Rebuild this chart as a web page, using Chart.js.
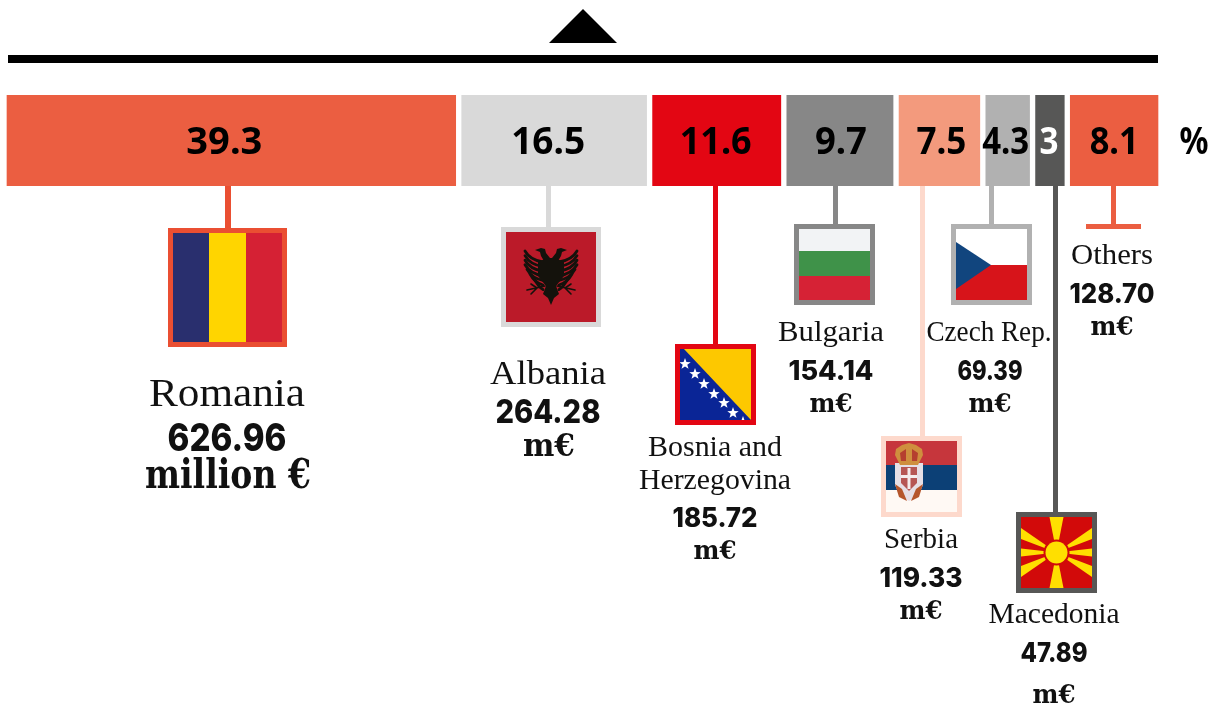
<!DOCTYPE html>
<html>
<head>
<meta charset="utf-8">
<title>Shares by country</title>
<script src="https://cdn.jsdelivr.net/npm/chart.js@4"></script>
<style>
  html, body { margin: 0; padding: 0; background: #fff; }
  canvas { display: block; }
</style>
</head>
<body>
<canvas id="chart" width="1219" height="707"></canvas>
<script>
const countries = ['Romania', 'Albania', 'Bosnia and Herzegovina', 'Bulgaria', 'Serbia', 'Czech Rep.', 'Macedonia', 'Others'];
const shares = [39.3, 16.5, 11.6, 9.7, 7.5, 4.3, 3, 8.1];
const amounts = [626.96, 264.28, 185.72, 154.14, 119.33, 69.39, 47.89, 128.70];
const unitLabels = ['million €', 'm€', 'm€', 'm€', 'm€', 'm€', 'm€', 'm€'];
const barColors = ['#eb5e41', '#d9d9d9', '#e30613', '#878787', '#f39a7d', '#b1b1b1', '#575756', '#eb5e41'];
const frameColors = ['#ea4f32', '#d9d9d9', '#e30613', '#878787', '#fdd9cc', '#b1b1b1', '#575756', '#eb5e41'];
const shareColors = ['#000', '#000', '#000', '#000', '#000', '#000', '#fff', '#000'];
// the printed numbers do not sit quite in the middle of their segments
const shareNudge = [-7, -6, -1, 1, 2, -2, -1, 0];
const shareWidth = [76, 74, 72, 52, 50, 47, 19, 49];

const NAME = '39px "Liberation Serif"';
const SMALL_NAME = '30px "Liberation Serif"';
const MID_NAME = '34px "Liberation Serif"';
const NUM_L = '800 38px Inter';
const NUM_M = '800 33px Inter';
const NUM_S = '800 27px Inter';
const UNIT_L = 'bold 41px "DejaVu Serif"';
const UNIT_M = 'bold 32px "DejaVu Serif"';
const UNIT_S = 'bold 26px "DejaVu Serif"';

// flag = outer frame box, label lines = [text, centre, baseline, font, width]
const callouts = [
  { stem: [225, 6, 228], frame: [168, 228, 119, 119], border: 5, draw: romania, lines: [
    [countries[0], 227, 406, NAME, 156],
    [amounts[0].toFixed(2), 227, 451, NUM_L, 119],
    [unitLabels[0], 228, 488, UNIT_L, 166] ] },
  { stem: [546, 5, 227], frame: [501, 227, 100, 100], border: 5, draw: albania, lines: [
    [countries[1], 548, 384, MID_NAME, 116],
    [amounts[1].toFixed(2), 548, 423, NUM_M, 105],
    [unitLabels[1], 549, 456, UNIT_M, 52] ] },
  { stem: [713, 5, 344], frame: [675, 344, 81, 81], border: 5, draw: bosnia, lines: [
    ['Bosnia and', 715, 456, SMALL_NAME, 134],
    ['Herzegovina', 715, 489, SMALL_NAME, 152],
    [amounts[2].toFixed(2), 715, 527, NUM_S, 85],
    [unitLabels[2], 715, 559, UNIT_S, 43] ] },
  { stem: [833, 5, 224], frame: [794, 224, 81, 81], border: 5, draw: bulgaria, lines: [
    [countries[3], 831, 341, SMALL_NAME, 106],
    [amounts[3].toFixed(2), 831, 380, NUM_S, 85],
    [unitLabels[3], 831, 412, UNIT_S, 43] ] },
  { stem: [920, 5, 436], frame: [881, 436, 81, 81], border: 5, draw: serbia, lines: [
    [countries[4], 921, 548, SMALL_NAME, 74],
    [amounts[4].toFixed(2), 921, 587, NUM_S, 83],
    [unitLabels[4], 921, 619, UNIT_S, 43] ] },
  { stem: [989, 5, 224], frame: [951, 224, 81, 81], border: 5, draw: czech, lines: [
    [countries[5], 989, 341, SMALL_NAME, 125],
    [amounts[5].toFixed(2), 990, 380, NUM_S, 65],
    [unitLabels[5], 990, 412, UNIT_S, 43] ] },
  { stem: [1053, 5, 512], frame: [1016, 512, 81, 81], border: 5, draw: macedonia, lines: [
    [countries[6], 1054, 623, SMALL_NAME, 131],
    [amounts[6].toFixed(2), 1054, 662, NUM_S, 67],
    [unitLabels[6], 1054, 703, UNIT_S, 43] ] },
  { stem: [1111, 5, 224], lines: [
    [countries[7], 1112, 264, SMALL_NAME, 82],
    [amounts[7].toFixed(2), 1112, 303, NUM_S, 85],
    [unitLabels[7], 1112, 335, UNIT_S, 43] ] }
];

function fitText(ctx, text, cx, y, font, width, color) {
  ctx.save();
  ctx.font = font;
  ctx.fillStyle = color || '#111';
  ctx.textAlign = 'center';
  ctx.textBaseline = 'alphabetic';
  const natural = ctx.measureText(text).width;
  ctx.translate(cx, y);
  ctx.scale(width / natural, 1);
  ctx.fillText(text, 0, 0);
  ctx.restore();
}

function poly(ctx, pts, color) {
  ctx.fillStyle = color;
  ctx.beginPath();
  pts.forEach((p, i) => i ? ctx.lineTo(p[0], p[1]) : ctx.moveTo(p[0], p[1]));
  ctx.closePath();
  ctx.fill();
}

// flags, each one painted inside its inner box x,y,w,h
function romania(ctx, x, y, w, h) {
  ctx.fillStyle = '#292f6e'; ctx.fillRect(x, y, 36, h);
  ctx.fillStyle = '#ffd500'; ctx.fillRect(x + 36, y, 37, h);
  ctx.fillStyle = '#d52134'; ctx.fillRect(x + 73, y, w - 73, h);
}

function albania(ctx, x, y, w, h) {
  ctx.fillStyle = '#bb1a29'; ctx.fillRect(x, y, w, h);
  const cx = x + 45, ink = '#14120c';
  const tips = [26, 26, 26, 26, 24, 21, 17];
  ctx.strokeStyle = ink;
  ctx.lineCap = 'round';
  for (const side of [-1, 1]) {
    // feathers lift towards their tips
    tips.forEach((tip, k) => {
      const fy = y + 25 + k * 4.6;
      ctx.lineWidth = 2.8;
      ctx.beginPath();
      ctx.moveTo(cx + side * 8, fy + 5);
      ctx.quadraticCurveTo(cx + side * (tip - 5), fy + 3, cx + side * tip, fy - 6);
      ctx.stroke();
    });
    // head and beak
    poly(ctx, [[cx + side * 1, y + 26], [cx + side * 5, y + 21], [cx + side * 6, y + 17], [cx + side * 10, y + 16], [cx + side * 16, y + 18], [cx + side * 11, y + 20], [cx + side * 10, y + 24], [cx + side * 7, y + 29]], ink);
    // legs
    ctx.lineWidth = 1.6;
    ctx.beginPath();
    ctx.moveTo(cx + side * 6, y + 54);
    ctx.lineTo(cx + side * 24, y + 58);
    ctx.moveTo(cx + side * 14, y + 56);
    ctx.lineTo(cx + side * 20, y + 52);
    ctx.moveTo(cx + side * 14, y + 56);
    ctx.lineTo(cx + side * 20, y + 62);
    ctx.stroke();
  }
  // body and tail
  poly(ctx, [[cx - 4, y + 26], [cx + 4, y + 26], [cx + 13, y + 30], [cx + 13, y + 44], [cx + 5, y + 54], [cx + 8, y + 62], [cx + 3, y + 66], [cx, y + 73], [cx - 3, y + 66], [cx - 8, y + 62], [cx - 5, y + 54], [cx - 13, y + 44], [cx - 13, y + 30]], ink);
}

function bosnia(ctx, x, y, w, h) {
  ctx.fillStyle = '#0a2596'; ctx.fillRect(x, y, w, h);
  poly(ctx, [[x + 4, y], [x + w, y], [x + w, y + h]], '#fdc800');
  const stars = [[685, 364], [695, 374], [704, 384], [714, 394], [724, 403], [733, 413], [743, 422]];
  ctx.save();
  ctx.beginPath(); ctx.rect(x, y, w, h); ctx.clip();
  stars.forEach(s => {
    const pts = [];
    for (let k = 0; k < 10; k++) {
      const r = k % 2 ? 2.4 : 6, a = -Math.PI / 2 + k * Math.PI / 5;
      pts.push([s[0] + r * Math.cos(a), s[1] + r * Math.sin(a)]);
    }
    poly(ctx, pts, '#fff');
  });
  ctx.restore();
}

function bulgaria(ctx, x, y, w, h) {
  ctx.fillStyle = '#f2f3f5'; ctx.fillRect(x, y, w, 22);
  ctx.fillStyle = '#3f9249'; ctx.fillRect(x, y + 22, w, 25);
  ctx.fillStyle = '#d62235'; ctx.fillRect(x, y + 47, w, h - 47);
}

function serbia(ctx, x, y, w, h) {
  ctx.fillStyle = '#c6363c'; ctx.fillRect(x, y, w, 24);
  ctx.fillStyle = '#0c4076'; ctx.fillRect(x, y + 24, w, 25);
  ctx.fillStyle = '#fff9f4'; ctx.fillRect(x, y + 49, w, h - 49);
  const cx = x + 23;
  // mantle, behind everything
  poly(ctx, [[cx - 14, y + 22], [cx + 14, y + 22], [cx + 14, y + 44], [cx + 9, y + 55], [cx, y + 60], [cx - 9, y + 55], [cx - 14, y + 44]], '#e6dfe6');
  // crown
  poly(ctx, [[cx - 14, y + 14], [cx - 13, y + 8], [cx - 7, y + 4], [cx, y + 2], [cx + 7, y + 4], [cx + 13, y + 8], [cx + 14, y + 14], [cx + 9, y + 24], [cx - 9, y + 24]], '#cf8f3e');
  poly(ctx, [[cx - 9, y + 12], [cx - 3, y + 8], [cx - 3, y + 20], [cx - 8, y + 20]], '#b5402f');
  poly(ctx, [[cx + 9, y + 12], [cx + 3, y + 8], [cx + 3, y + 20], [cx + 8, y + 20]], '#b5402f');
  // shield and cross
  poly(ctx, [[cx - 8, y + 26], [cx + 8, y + 26], [cx + 8, y + 42], [cx, y + 50], [cx - 8, y + 42]], '#b65654');
  ctx.fillStyle = '#f4ecec';
  ctx.fillRect(cx - 1.5, y + 27, 3, 21);
  ctx.fillRect(cx - 8, y + 34, 16, 3);
  // talons round the bottom
  poly(ctx, [[cx - 14, y + 43], [cx - 7, y + 48], [cx - 2, y + 60], [cx - 10, y + 56]], '#b5562c');
  poly(ctx, [[cx + 14, y + 43], [cx + 7, y + 48], [cx + 2, y + 60], [cx + 10, y + 56]], '#b5562c');
}

function czech(ctx, x, y, w, h) {
  ctx.fillStyle = '#fff'; ctx.fillRect(x, y, w, 36);
  ctx.fillStyle = '#d7141a'; ctx.fillRect(x, y + 36, w, h - 36);
  poly(ctx, [[x, y + 13], [x + 35, y + 36], [x, y + 60]], '#11457e');
}

function macedonia(ctx, x, y, w, h) {
  ctx.fillStyle = '#d20a0a'; ctx.fillRect(x, y, w, h);
  const cx = x + 35.5, cy = y + 35.5, sun = '#ffdf00';
  ctx.save();
  ctx.beginPath(); ctx.rect(x, y, w, h); ctx.clip();
  poly(ctx, [[cx, cy], [cx - 7, y], [cx + 7, y]], sun);
  poly(ctx, [[cx, cy], [cx - 7, y + h], [cx + 7, y + h]], sun);
  poly(ctx, [[cx, cy], [x, cy - 4], [x, cy + 4]], sun);
  poly(ctx, [[cx, cy], [x + w, cy - 4], [x + w, cy + 4]], sun);
  poly(ctx, [[cx, cy], [x, y + 11], [x, y + 22]], sun);
  poly(ctx, [[cx, cy], [x + w, y + 11], [x + w, y + 22]], sun);
  poly(ctx, [[cx, cy], [x, y + h - 11], [x, y + h - 22]], sun);
  poly(ctx, [[cx, cy], [x + w, y + h - 11], [x + w, y + h - 22]], sun);
  ctx.restore();
  ctx.fillStyle = '#d20a0a';
  ctx.beginPath(); ctx.arc(cx, cy, 13, 0, Math.PI * 2); ctx.fill();
  ctx.fillStyle = sun;
  ctx.beginPath(); ctx.arc(cx, cy, 11, 0, Math.PI * 2); ctx.fill();
}

const sharePlugin = {
  id: 'shareLabels',
  afterDatasetsDraw(chart) {
    const ctx = chart.ctx;
    shares.forEach((v, i) => {
      const bar = chart.getDatasetMeta(i).data[0];
      const c = bar.getCenterPoint();
      fitText(ctx, String(v), c.x + shareNudge[i], c.y + 13, 'bold 37px "Noto Sans"', shareWidth[i], shareColors[i]);
    });
    fitText(ctx, '%', 1194, 154, 'bold 37px "Noto Sans"', 29, '#000');
  }
};

const calloutPlugin = {
  id: 'callouts',
  afterDraw(chart) {
    const ctx = chart.ctx;
    // pointer and rule above the bar
    poly(ctx, [[583, 9], [617, 43], [549, 43]], '#000');
    ctx.fillStyle = '#000';
    ctx.fillRect(8, 55, 1150, 8);

    callouts.forEach((c, i) => {
      ctx.fillStyle = frameColors[i];
      ctx.fillRect(c.stem[0], 186, c.stem[1], c.stem[2] - 186);
      if (c.frame) {
        const [fx, fy, fw, fh] = c.frame;
        ctx.fillRect(fx, fy, fw, fh);
        ctx.save();
        c.draw(ctx, fx + c.border, fy + c.border, fw - c.border * 2, fh - c.border * 2);
        ctx.restore();
      }
      c.lines.forEach(l => fitText(ctx, l[0], l[1], l[2], l[3], l[4]));
    });
    // Others only gets a crossbar
    ctx.fillStyle = frameColors[7];
    ctx.fillRect(1086, 224, 55, 5);
  }
};

new Chart(document.getElementById('chart'), {
  type: 'bar',
  data: {
    labels: ['share'],
    datasets: countries.map((name, i) => ({
      label: name,
      data: [shares[i]],
      backgroundColor: barColors[i],
      borderColor: '#fff',
      borderWidth: { left: 3, right: 3, top: 0, bottom: 0 },
      borderSkipped: false,
      barThickness: 91
    }))
  },
  options: {
    indexAxis: 'y',
    responsive: false,
    animation: false,
    layout: { padding: { left: 4, right: 58, top: 0, bottom: 426 } },
    plugins: { legend: { display: false }, tooltip: { enabled: false } },
    scales: {
      x: { stacked: true, display: false, min: 0, max: 100 },
      y: { stacked: true, display: false }
    }
  },
  plugins: [sharePlugin, calloutPlugin]
});
</script>
</body>
</html>
